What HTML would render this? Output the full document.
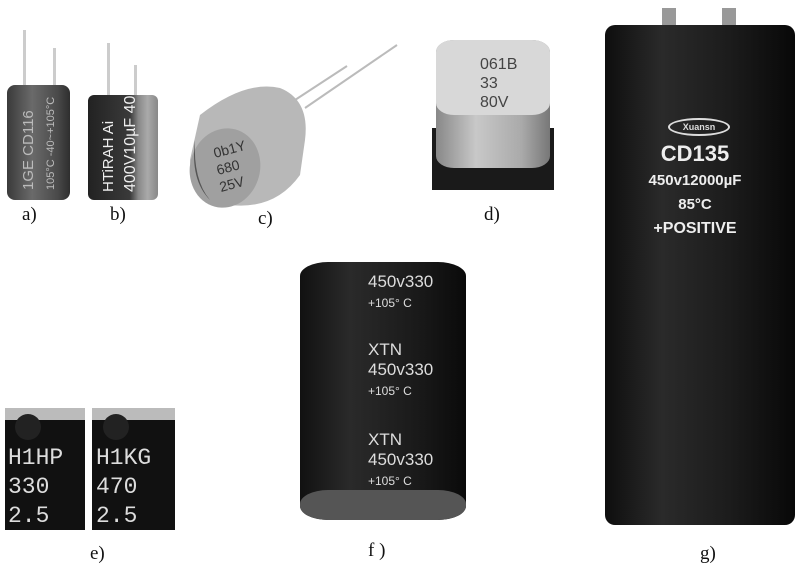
<!DOCTYPE html>
<html><head><style>
body{margin:0;width:800px;height:570px;background:#fff;position:relative;overflow:hidden;font-family:"Liberation Serif",serif}
.a{position:absolute}
.lb{position:absolute;font-size:19px;color:#111}
.lead{position:absolute;background:#ccc;width:3px}
.s{font-family:"Liberation Sans",sans-serif;position:absolute;color:#eee;white-space:nowrap}
</style></head><body>
<!-- a -->
<div class="lead" style="left:23px;top:30px;height:60px"></div>
<div class="lead" style="left:53px;top:48px;height:42px"></div>
<div class="a" style="left:7px;top:85px;width:63px;height:115px;border-radius:8px;background:linear-gradient(90deg,#3a3a3a,#6a6a6a 40%,#4a4a4a 80%,#2e2e2e)"></div>
<div class="s" style="left:20px;top:190px;transform:rotate(-90deg);transform-origin:0 0;font-size:15px;color:#bbb">1GE CD116</div>
<div class="s" style="left:45px;top:190px;transform:rotate(-90deg);transform-origin:0 0;font-size:11px;color:#bbb">105°C -40~+105°C</div>
<!-- b -->
<div class="lead" style="left:107px;top:43px;height:55px"></div>
<div class="lead" style="left:134px;top:65px;height:33px"></div>
<div class="a" style="left:88px;top:95px;width:70px;height:105px;border-radius:6px;background:linear-gradient(90deg,#222,#3a3a3a 60%,#888 72%,#aaa 85%,#888)"></div>
<div class="s" style="left:100px;top:192px;transform:rotate(-90deg);transform-origin:0 0;font-size:15px">HTiRAH Ai</div>
<div class="s" style="left:122px;top:192px;transform:rotate(-90deg);transform-origin:0 0;font-size:16px">400V10µF 40</div>
<!-- c -->
<svg class="a" style="left:185px;top:40px" width="220" height="180">
<line x1="110" y1="60" x2="162" y2="26" stroke="#bbb" stroke-width="2"/>
<line x1="120" y1="68" x2="212" y2="5" stroke="#bbb" stroke-width="2"/>
<path d="M15 75 Q60 40 95 48 Q125 60 120 100 L115 135 Q90 170 45 165 Q5 150 5 120 Z" fill="#b8b8b8"/>
<ellipse cx="40" cy="128" rx="35" ry="40" fill="#a0a0a0" transform="rotate(15 40 128)"/>
<path d="M10 100 Q5 140 25 160 Q8 140 10 100Z" fill="#555"/>
<text x="30" y="118" font-family="Liberation Sans" font-size="14" fill="#333" transform="rotate(-15 30 118)">0b1Y</text>
<text x="33" y="135" font-family="Liberation Sans" font-size="14" fill="#333" transform="rotate(-15 33 135)">680</text>
<text x="36" y="152" font-family="Liberation Sans" font-size="14" fill="#333" transform="rotate(-15 36 152)">25V</text>
</svg>
<!-- d -->
<div class="a" style="left:432px;top:128px;width:122px;height:62px;background:#1a1a1a"></div>
<div class="a" style="left:436px;top:40px;width:114px;height:128px;border-radius:18px/12px;background:linear-gradient(90deg,#888,#c8c8c8 35%,#aaa 75%,#777)"></div>
<div class="a" style="left:436px;top:40px;width:114px;height:75px;border-radius:18px/12px;background:#d8d8d8"></div>
<div class="s" style="left:480px;top:55px;font-size:16px;color:#444;line-height:19px">061B<br>33<br>80V</div>
<!-- e -->
<div class="a" style="left:5px;top:408px;width:80px;height:110px;background:#111;border-top:12px solid #bbb"></div>
<div class="a" style="left:92px;top:408px;width:83px;height:110px;background:#111;border-top:12px solid #bbb"></div>
<div class="a" style="left:15px;top:414px;width:26px;height:26px;border-radius:50%;background:#222"></div>
<div class="a" style="left:103px;top:414px;width:26px;height:26px;border-radius:50%;background:#222"></div>
<div class="s" style="left:8px;top:444px;font-size:23px;font-family:'Liberation Mono',monospace;line-height:29px;color:#ddd">H1HP<br>330<br>2.5</div>
<div class="s" style="left:96px;top:444px;font-size:23px;font-family:'Liberation Mono',monospace;line-height:29px;color:#ddd">H1KG<br>470<br>2.5</div>
<!-- f -->
<div class="a" style="left:300px;top:262px;width:166px;height:258px;border-radius:28px/14px;background:linear-gradient(90deg,#111,#2a2a2a 30%,#1a1a1a 70%,#0a0a0a)"></div>
<div class="a" style="left:300px;top:490px;width:166px;height:30px;border-radius:28px/14px;background:#555"></div>
<div class="s" style="left:368px;top:272px;font-size:17px;line-height:20px;color:#ddd">450v330<br><span style="font-size:12px">+105° C</span></div>
<div class="s" style="left:368px;top:340px;font-size:17px;line-height:20px;color:#ddd">XTN<br>450v330<br><span style="font-size:12px">+105° C</span></div>
<div class="s" style="left:368px;top:430px;font-size:17px;line-height:20px;color:#ddd">XTN<br>450v330<br><span style="font-size:12px">+105° C</span></div>
<!-- g -->
<div class="a" style="left:662px;top:8px;width:14px;height:22px;background:#999"></div>
<div class="a" style="left:722px;top:8px;width:14px;height:22px;background:#999"></div>
<div class="a" style="left:605px;top:25px;width:190px;height:500px;border-radius:10px;background:linear-gradient(90deg,#0e0e0e,#2a2a2a 30%,#1c1c1c 65%,#080808)"></div>
<div class="a" style="left:668px;top:118px;width:58px;height:14px;border:2px solid #ddd;border-radius:50%;font:bold 9px 'Liberation Sans';color:#ddd;text-align:center;line-height:14px">Xuansn</div>
<div class="s" style="left:630px;top:142px;font-size:22px;line-height:24px;color:#eee;text-align:center;width:130px;font-weight:bold">CD135<br><span style="font-size:15px;line-height:19px">450v12000µF<br>85°C<br><span style="font-size:16px">+POSITIVE</span></span></div>
<!-- labels -->
<div class="lb" style="left:22px;top:204px">a)</div>
<div class="lb" style="left:110px;top:204px">b)</div>
<div class="lb" style="left:258px;top:208px">c)</div>
<div class="lb" style="left:484px;top:204px">d)</div>
<div class="lb" style="left:90px;top:543px">e)</div>
<div class="lb" style="left:368px;top:540px">f )</div>
<div class="lb" style="left:700px;top:543px">g)</div>
</body></html>
